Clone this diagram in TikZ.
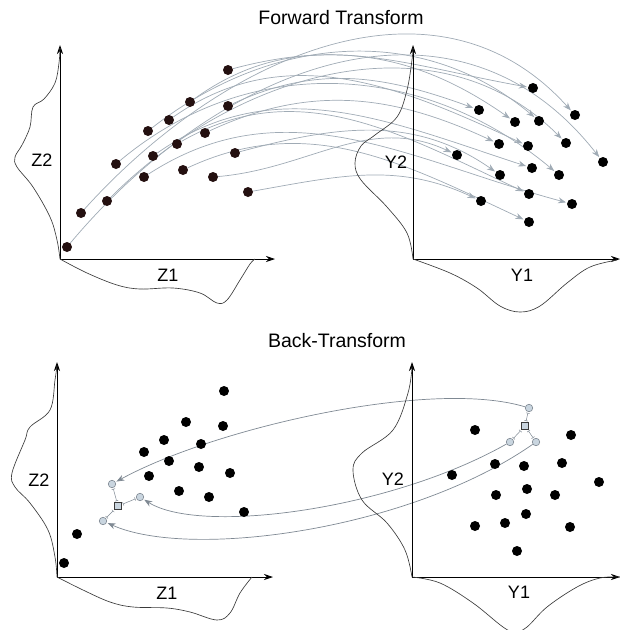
\documentclass[tikz,border=0pt]{standalone}
\usepackage{fontspec}
\setmainfont{Liberation Sans}
\usetikzlibrary{arrows.meta}
\pgfdeclarelayer{bg}
\pgfsetlayers{bg,main}
\definecolor{dotdark}{HTML}{241010}
\definecolor{flowgray}{HTML}{A0ABB5}
\definecolor{backgray}{HTML}{7F8993}
\definecolor{glyphfill}{HTML}{C9D5DF}
\definecolor{curvegray}{HTML}{3A3A3A}
\tikzset{
  axis/.style={line width=0.8pt, -{Stealth[length=9pt,width=6pt]}},
  density/.style={curvegray, line width=0.65pt, smooth, tension=0.6},
  title/.style={font=\fontsize{19.5}{22}\selectfont},
  axlabel/.style={font=\fontsize{18}{20}\selectfont},
  zdot/.style={circle, fill=dotdark, inner sep=0pt, minimum size=10pt},
  ydot/.style={circle, fill=black, inner sep=0pt, minimum size=10pt},
  fwd/.style={flowgray, line width=0.7pt, shorten >=1pt,
    -{Stealth[length=8pt,width=6pt]}},
  back/.style={backgray, line width=0.7pt, shorten >=1pt,
    -{Stealth[length=8pt,width=6pt]}},
  glyphc/.style={circle, fill=glyphfill, draw=backgray, line width=0.6pt,
    inner sep=0pt, minimum size=7.5pt},
  glyphs/.style={rectangle, fill=glyphfill, draw=curvegray, line width=0.6pt,
    inner sep=0pt, minimum size=7.5pt},
  link/.style={backgray, line width=0.5pt, shorten <=1pt, shorten >=1pt,
    {Bar[width=3.5pt]}-{Bar[width=3.5pt]}}
}
\begin{document}
\begin{tikzpicture}[x=1pt,y=1pt]
\useasboundingbox (0,0) rectangle (620,-630);

% ---------------- titles ----------------
\node[title] (t1) at (341,-18) {Forward Transform};
\node[title] (t2) at (337,-341) {Back-Transform};

% ---------------- upper panel: axes ----------------
\coordinate (zo) at (60,-259);
\coordinate (zx) at (275,-259);
\coordinate (zy) at (60,-45);
\coordinate (yo) at (413,-259);
\coordinate (yx) at (620,-259);
\coordinate (yy) at (413,-45);
\draw[axis] (zo) -- (zx);
\draw[axis] (zo) -- (zy);
\draw[axis] (yo) -- (yx);
\draw[axis] (yo) -- (yy);
\node[axlabel] (lz2) at (42,-160) {Z2};
\node[axlabel] (lz1) at (168,-275) {Z1};
\node[axlabel] (ly2) at (396,-162) {Y2};
\node[axlabel] (ly1) at (522,-275) {Y1};

% marginal densities
\draw[density] plot coordinates {(60,-48) (59,-63) (55,-83) (44,-99) (33,-107) (30,-127) (22,-145) (15,-157) (17,-167) (33,-187) (50,-217) (57,-240) (60,-259)};
\draw[density] plot coordinates {(60,-259) (87,-273) (117,-285) (140,-289) (173,-288) (200,-293) (217,-303) (227,-300) (240,-280) (250,-264) (255,-259)};
\draw[density] plot coordinates {(413,-48) (412,-60) (407,-90) (397,-117) (375,-135) (361,-146) (355,-163) (361,-180) (387,-207) (407,-233) (413,-259)};
\draw[density] plot coordinates {(413,-259) (450,-273) (477,-288) (500,-306) (520,-312) (540,-306) (567,-283) (590,-267) (617,-260)};

% ---------------- upper panel: points ----------------
\node[zdot] (l1) at (228,-70) {};
\node[zdot] (l2) at (190,-102) {};
\node[zdot] (l3) at (228,-106) {};
\node[zdot] (l4) at (169,-120) {};
\node[zdot] (l5) at (148,-131) {};
\node[zdot] (l6) at (205,-133) {};
\node[zdot] (l7) at (177,-144) {};
\node[zdot] (l8) at (235,-153) {};
\node[zdot] (l9) at (153,-156) {};
\node[zdot] (l10) at (116,-164) {};
\node[zdot] (l11) at (183,-170) {};
\node[zdot] (l12) at (144,-177) {};
\node[zdot] (l13) at (213,-177) {};
\node[zdot] (l14) at (248,-192) {};
\node[zdot] (l15) at (107,-201) {};
\node[zdot] (l16) at (81,-213) {};
\node[zdot] (l17) at (67,-247) {};

\node[ydot] (r1) at (533,-88) {};
\node[ydot] (r2) at (479,-110) {};
\node[ydot] (r3) at (575,-115) {};
\node[ydot] (r4) at (539,-121) {};
\node[ydot] (r5) at (515,-122) {};
\node[ydot] (r6) at (566,-143) {};
\node[ydot] (r7) at (499,-144) {};
\node[ydot] (r8) at (528,-146) {};
\node[ydot] (r9) at (457,-155) {};
\node[ydot] (r10) at (603,-162) {};
\node[ydot] (r11) at (532,-168) {};
\node[ydot] (r12) at (559,-175) {};
\node[ydot] (r13) at (500,-175) {};
\node[ydot] (r14) at (529,-194) {};
\node[ydot] (r15) at (481,-201) {};
\node[ydot] (r16) at (572,-204) {};
\node[ydot] (r17) at (529,-222) {};

% forward mapping
\begin{pgfonlayer}{bg}
\draw[fwd] (l17) to[out=50,in=128,looseness=1.12] (r10);
\draw[fwd] (l16) to[out=48,in=132,looseness=1.05] (r3);
\draw[fwd] (l15) to[out=45,in=135,looseness=1.0] (r6);
\draw[fwd] (l10) to[out=40,in=140,looseness=1.0] (r12);
\draw[fwd] (l5) to[out=38,in=140,looseness=1.0] (r4);
\draw[fwd] (l12) to[out=33,in=165,looseness=1.0] (r16);
\draw[fwd] (l9) to[out=35,in=162,looseness=1.0] (r11);
\draw[fwd] (l4) to[out=35,in=155,looseness=1.0] (r8);
\draw[fwd] (l7) to[out=30,in=155,looseness=1.0] (r14);
\draw[fwd] (l2) to[out=36,in=170,looseness=1.0] (r1);
\draw[fwd] (l11) to[out=25,in=155,looseness=1.0] (r17);
\draw[fwd] (l3) to[out=25,in=160,looseness=1.0] (r2);
\draw[fwd] (l1) to[out=15,in=145,looseness=1.0] (r5);
\draw[fwd] (l6) to[out=25,in=155,looseness=1.0] (r7);
\draw[fwd] (l8) to[out=15,in=145,looseness=1.0] (r13);
\draw[fwd] (l13) to[out=5,in=155,looseness=1.0] (r9);
\draw[fwd] (l14) to[out=10,in=155,looseness=1.0] (r15);
\end{pgfonlayer}

% ---------------- lower panel: axes ----------------
\coordinate (bzo) at (57,-577);
\coordinate (bzx) at (273,-577);
\coordinate (bzy) at (57,-362);
\coordinate (byo) at (412,-577);
\coordinate (byx) at (620,-577);
\coordinate (byy) at (412,-362);
\draw[axis] (bzo) -- (bzx);
\draw[axis] (bzo) -- (bzy);
\draw[axis] (byo) -- (byx);
\draw[axis] (byo) -- (byy);
\node[axlabel] (bz2) at (39,-480) {Z2};
\node[axlabel] (bz1) at (167,-593) {Z1};
\node[axlabel] (by2) at (393,-479) {Y2};
\node[axlabel] (by1) at (519,-592) {Y1};

\draw[density] plot coordinates {(57,-366) (55,-380) (50,-410) (30,-427) (25,-440) (12,-473) (15,-487) (30,-503) (48,-530) (55,-557) (57,-577)};
\draw[density] plot coordinates {(57,-577) (83,-590) (110,-602) (133,-607) (167,-608) (190,-612) (217,-620) (230,-613) (240,-593) (252,-577)};
\draw[density] plot coordinates {(412,-367) (408,-393) (393,-430) (362,-453) (353,-470) (362,-500) (387,-523) (405,-550) (412,-577)};
\draw[density] plot coordinates {(412,-577) (440,-583) (473,-603) (503,-627) (515,-632) (527,-627) (547,-607) (577,-587) (600,-578) (620,-577)};

% ---------------- lower panel: points ----------------
\node[ydot] (bl1) at (224,-391) {};
\node[ydot] (bl2) at (186,-422) {};
\node[ydot] (bl3) at (223,-426) {};
\node[ydot] (bl4) at (164,-440) {};
\node[ydot] (bl5) at (201,-444) {};
\node[ydot] (bl6) at (144,-452) {};
\node[ydot] (bl7) at (169,-461) {};
\node[ydot] (bl8) at (199,-467) {};
\node[ydot] (bl9) at (149,-476) {};
\node[ydot] (bl10) at (230,-473) {};
\node[ydot] (bl11) at (179,-491) {};
\node[ydot] (bl12) at (209,-497) {};
\node[ydot] (bl13) at (244,-512) {};
\node[ydot] (bl14) at (77,-534) {};
\node[ydot] (bl15) at (64,-563) {};

\node[ydot] (br1) at (475,-430) {};
\node[ydot] (br2) at (571,-435) {};
\node[ydot] (br3) at (495,-464) {};
\node[ydot] (br4) at (524,-466) {};
\node[ydot] (br5) at (562,-463) {};
\node[ydot] (br6) at (452,-475) {};
\node[ydot] (br7) at (599,-482) {};
\node[ydot] (br8) at (496,-495) {};
\node[ydot] (br9) at (527,-489) {};
\node[ydot] (br10) at (555,-495) {};
\node[ydot] (br11) at (475,-526) {};
\node[ydot] (br12) at (505,-523) {};
\node[ydot] (br13) at (526,-514) {};
\node[ydot] (br14) at (570,-527) {};
\node[ydot] (br15) at (517,-551) {};

% back-transform of three neighbours around a target location
\node[glyphc] (qa) at (529,-408) {};
\node[glyphs] (qs) at (525,-426) {};
\node[glyphc] (qb) at (510,-442) {};
\node[glyphc] (qc) at (536,-442) {};
\draw[link] (qs) -- (qa);
\draw[link] (qs) -- (qb);
\draw[link] (qs) -- (qc);

\node[glyphc] (pa) at (112,-484) {};
\node[glyphs] (ps) at (118,-506) {};
\node[glyphc] (pb) at (140,-497) {};
\node[glyphc] (pc) at (103,-521) {};
\draw[link] (ps) -- (pa);
\draw[link] (ps) -- (pb);
\draw[link] (ps) -- (pc);

\begin{pgfonlayer}{bg}
\draw[back] (qa) .. controls (430,-378) and (212,-429) .. (pa);
\draw[back] (qb) .. controls (390,-510) and (200,-535) .. (pb);
\draw[back] (qc) .. controls (410,-530) and (190,-560) .. (pc);
\end{pgfonlayer}
\end{tikzpicture}
\end{document}
